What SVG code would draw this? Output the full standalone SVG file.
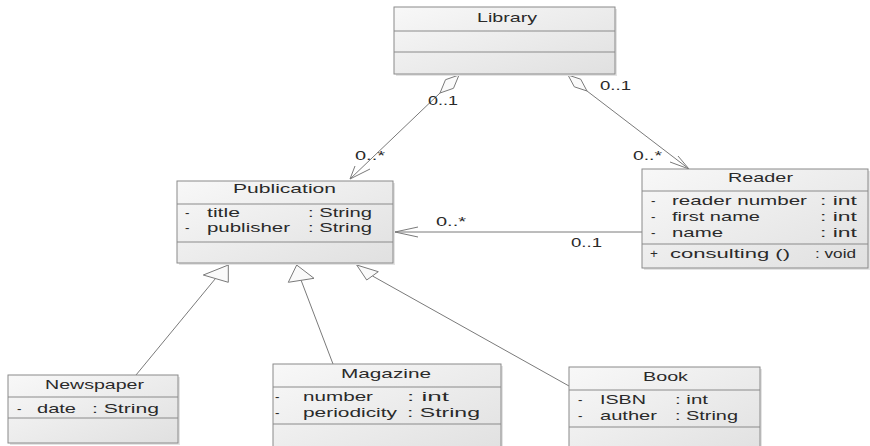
<svg xmlns="http://www.w3.org/2000/svg" width="870" height="446" viewBox="0 0 870 446">
<defs>
<linearGradient id="fillG" x1="0" y1="0" x2="1" y2="1">
<stop offset="0" stop-color="#f8f8f8"/>
<stop offset="1" stop-color="#e0e0e0"/>
</linearGradient>
</defs>
<style>
.box{fill:url(#fillG);stroke:#8a8a8a;stroke-width:1}
.sh{fill:#e4e4e4;stroke:none}
.div{stroke:#8a8a8a;stroke-width:1}
text{font-family:"Liberation Sans",Arial,sans-serif;font-size:13.5px;fill:#2a2a2a}
.ln{fill:none;stroke:#7a7a7a;stroke-width:1}
.hd{fill:#fafafa;stroke:#7a7a7a;stroke-width:1}
</style>
<rect width="870" height="446" fill="#ffffff"/>

<g id="connectors">
<polygon class="hd" points="459,75 453.5,88.3 440,93 445.5,79.7"/>
<line class="ln" x1="440" y1="93" x2="350" y2="179"/>
<polyline class="ln" points="355,166 350,179 370,169"/>
<polygon class="hd" points="568,75 574.3,86.8 587,91 580.7,79.2"/>
<line class="ln" x1="587" y1="91" x2="689" y2="169"/>
<polyline class="ln" points="678,156 689,169 670,162"/>
<line class="ln" x1="395" y1="232" x2="642" y2="232"/>
<polyline class="ln" points="418,227 395,232 418,237"/>
<line class="ln" x1="136" y1="375" x2="215.5" y2="278.5"/>
<polygon class="hd" points="228.3,265 203.3,275 228.3,282.3"/>
<line class="ln" x1="333" y1="364" x2="301" y2="280"/>
<polygon class="hd" points="296.7,265 288.3,282.3 314,278.3"/>
<line class="ln" x1="569" y1="386" x2="372.5" y2="276"/>
<polygon class="hd" points="356.7,265 366.7,280 378.3,271.7"/>
<text x="428" y="105" textLength="30" lengthAdjust="spacingAndGlyphs">0..1</text>
<text x="355" y="160" textLength="30" lengthAdjust="spacingAndGlyphs">0..*</text>
<text x="600" y="90" textLength="31" lengthAdjust="spacingAndGlyphs">0..1</text>
<text x="633" y="160" textLength="29" lengthAdjust="spacingAndGlyphs">0..*</text>
<text x="436" y="226" textLength="30" lengthAdjust="spacingAndGlyphs">0..*</text>
<text x="571" y="247" textLength="31" lengthAdjust="spacingAndGlyphs">0..1</text>
</g>

<g id="Library">
<rect class="sh" x="396" y="9" width="221" height="67"/>
<rect class="box" x="394" y="7" width="221" height="67"/>
<line class="div" x1="394" y1="31" x2="615" y2="31"/>
<line class="div" x1="394" y1="52" x2="615" y2="52"/>
<text x="477" y="22" textLength="60" lengthAdjust="spacingAndGlyphs">Library</text>
</g>

<g id="Publication">
<rect class="sh" x="179" y="183" width="216" height="82"/>
<rect class="box" x="177" y="181" width="216" height="82"/>
<line class="div" x1="177" y1="204" x2="393" y2="204"/>
<line class="div" x1="177" y1="242" x2="393" y2="242"/>
<text x="233" y="193" textLength="103" lengthAdjust="spacingAndGlyphs">Publication</text>
<text x="185" y="217">-</text>
<text x="207" y="217" textLength="33" lengthAdjust="spacingAndGlyphs">title</text>
<text x="308" y="217" textLength="64" lengthAdjust="spacingAndGlyphs">: String</text>
<text x="185" y="232">-</text>
<text x="207" y="232" textLength="83" lengthAdjust="spacingAndGlyphs">publisher</text>
<text x="308" y="232" textLength="64" lengthAdjust="spacingAndGlyphs">: String</text>
</g>

<g id="Reader">
<rect class="sh" x="644" y="171" width="226" height="99"/>
<rect class="box" x="642" y="169" width="226" height="99"/>
<line class="div" x1="642" y1="191" x2="868" y2="191"/>
<line class="div" x1="642" y1="244" x2="868" y2="244"/>
<text x="728" y="182" textLength="65" lengthAdjust="spacingAndGlyphs">Reader</text>
<text x="651" y="205">-</text>
<text x="672" y="205" textLength="135" lengthAdjust="spacingAndGlyphs">reader number</text>
<text x="820" y="205" textLength="37" lengthAdjust="spacingAndGlyphs">: int</text>
<text x="651" y="221">-</text>
<text x="672" y="221" textLength="88" lengthAdjust="spacingAndGlyphs">first name</text>
<text x="820" y="221" textLength="37" lengthAdjust="spacingAndGlyphs">: int</text>
<text x="651" y="237">-</text>
<text x="672" y="237" textLength="51" lengthAdjust="spacingAndGlyphs">name</text>
<text x="820" y="237" textLength="37" lengthAdjust="spacingAndGlyphs">: int</text>
<text x="650" y="258">+</text>
<text x="670" y="258" textLength="120" lengthAdjust="spacingAndGlyphs">consulting ()</text>
<text x="815" y="258" textLength="41" lengthAdjust="spacingAndGlyphs">: void</text>
</g>

<g id="Newspaper">
<rect class="sh" x="10" y="377" width="170" height="68"/>
<rect class="box" x="8" y="375" width="170" height="68"/>
<line class="div" x1="8" y1="397" x2="178" y2="397"/>
<line class="div" x1="8" y1="418" x2="178" y2="418"/>
<text x="45" y="389" textLength="99" lengthAdjust="spacingAndGlyphs">Newspaper</text>
<text x="17" y="413">-</text>
<text x="37" y="413" textLength="39" lengthAdjust="spacingAndGlyphs">date</text>
<text x="92" y="413" textLength="67" lengthAdjust="spacingAndGlyphs">: String</text>
</g>

<g id="Magazine">
<rect class="sh" x="275" y="366" width="228" height="92"/>
<rect class="box" x="273" y="364" width="228" height="92"/>
<line class="div" x1="273" y1="387" x2="501" y2="387"/>
<line class="div" x1="273" y1="424" x2="501" y2="424"/>
<text x="341" y="378" textLength="90" lengthAdjust="spacingAndGlyphs">Magazine</text>
<text x="275" y="401">-</text>
<text x="303" y="401" textLength="70" lengthAdjust="spacingAndGlyphs">number</text>
<text x="407" y="401" textLength="42" lengthAdjust="spacingAndGlyphs">: int</text>
<text x="275" y="417">-</text>
<text x="303" y="417" textLength="94" lengthAdjust="spacingAndGlyphs">periodicity</text>
<text x="407" y="417" textLength="73" lengthAdjust="spacingAndGlyphs">: String</text>
</g>

<g id="Book">
<rect class="sh" x="571" y="369" width="191" height="92"/>
<rect class="box" x="569" y="367" width="191" height="92"/>
<line class="div" x1="569" y1="390" x2="760" y2="390"/>
<line class="div" x1="569" y1="427" x2="760" y2="427"/>
<text x="643" y="381" textLength="45" lengthAdjust="spacingAndGlyphs">Book</text>
<text x="578" y="404">-</text>
<text x="600" y="404" textLength="46" lengthAdjust="spacingAndGlyphs">ISBN</text>
<text x="675" y="404" textLength="33" lengthAdjust="spacingAndGlyphs">: int</text>
<text x="578" y="420">-</text>
<text x="600" y="420" textLength="57" lengthAdjust="spacingAndGlyphs">auther</text>
<text x="675" y="420" textLength="63" lengthAdjust="spacingAndGlyphs">: String</text>
</g>
</svg>
